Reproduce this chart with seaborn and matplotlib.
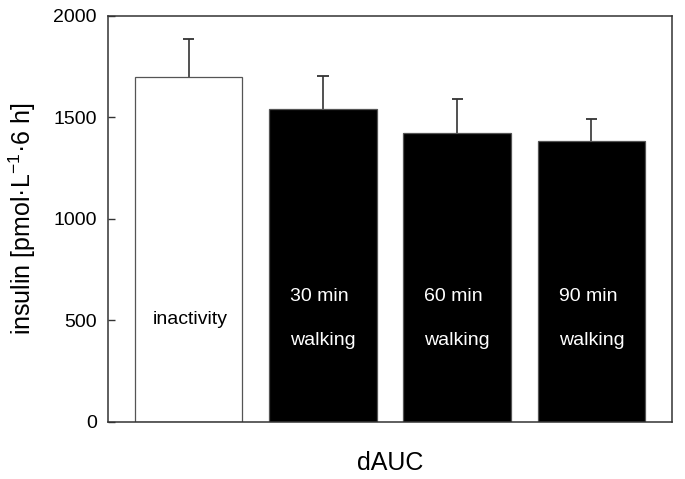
import matplotlib
matplotlib.use("Agg")
import matplotlib.pyplot as plt
import seaborn as sns
import pandas as pd
import numpy as np

categories = ["inactivity", "30 min walking", "60 min walking", "90 min walking"]
means = [1701, 1542, 1425, 1386]
sd_upper = [186, 164, 165, 107]
bar_labels = ["inactivity", "30 min\nwalking", "60 min\nwalking", "90 min\nwalking"]
fill_colors = ["white", "black", "black", "black"]
yticks = [0, 500, 1000, 1500, 2000]

sns.set_theme(style="white")
plt.rcParams["font.family"] = ["Liberation Sans", "DejaVu Sans"]
plt.rcParams["mathtext.default"] = "regular"
plt.rcParams["text.color"] = "black"
plt.rcParams["axes.labelcolor"] = "black"
plt.rcParams["ytick.color"] = "black"

df = pd.DataFrame({"group": categories, "value": means})

fig = plt.figure(figsize=(6.85, 4.79), dpi=100)
ax = fig.add_axes([0.1577, 0.1196, 0.8233, 0.847])

sns.barplot(data=df, x="group", y="value", hue="group", palette=fill_colors,
            legend=False, errorbar=None, width=0.8, ax=ax,
            edgecolor="#555555", linewidth=0.9, zorder=2)

xs = np.arange(len(categories))
tops = np.array(means) + np.array(sd_upper)
ax.vlines(xs, means, tops, colors="#333333", linewidth=1.2, zorder=1)
ax.hlines(tops, xs - 0.042, xs + 0.042, colors="#333333", linewidth=1.3, zorder=1)

# text labels inside bars
for i, lab in enumerate(bar_labels):
    color = "black" if fill_colors[i] == "white" else "white"
    if "\n" not in lab:
        ax.text(xs[i] + 0.015, 505, lab, ha="center", va="center", fontsize=14, color=color, zorder=3)
    else:
        ax.text(xs[i], 509, lab, ha="center", va="center", multialignment="left",
                linespacing=3.1, fontsize=14, color=color, zorder=3)

ax.set_xlim(-0.6, 3.6)
ax.set_ylim(0, 2000)
ax.set_yticks(yticks)
ax.set_yticklabels([str(t) for t in yticks], fontsize=14)
ax.set_xticks([])
ax.tick_params(axis="y", direction="in", length=5, width=1, color="#333333", pad=8, left=True)
for s in ax.spines.values():
    s.set_color("#333333")
    s.set_linewidth(1.1)
    s.set_visible(True)

ax.set_xlabel("dAUC", fontsize=18)
ax.xaxis.set_label_coords(0.5, -0.072)
ax.set_ylabel("insulin [pmol·L$^{-1}$·6 h]", fontsize=18)
ax.yaxis.set_label_coords(-0.124, 0.5)

fig.savefig("out.png", dpi=100, facecolor="white")
